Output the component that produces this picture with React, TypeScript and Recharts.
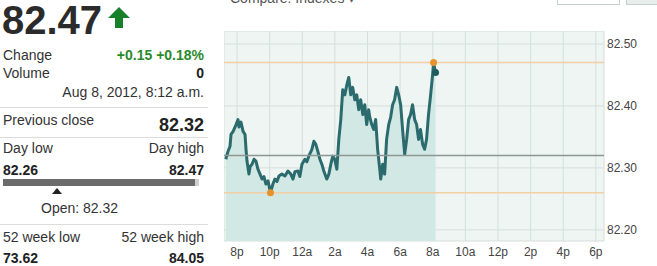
import React from 'react';
import { ComposedChart, Area, XAxis, YAxis, CartesianGrid, ReferenceLine, ReferenceDot } from 'recharts';

// hours after 6p of the previous day
const times = [
  1.31, 1.45, 1.57, 1.63, 1.76, 1.94, 2.06, 2.12, 2.24, 2.37, 2.49, 2.55, 2.61, 2.73, 2.8, 2.92,
  3.04, 3.16, 3.28, 3.41, 3.53, 3.65, 3.77, 3.9, 4.05, 4.2, 4.32, 4.45, 4.57, 4.75, 4.94, 5.12,
  5.3, 5.43, 5.55, 5.73, 5.85, 5.98, 6.16, 6.28, 6.4, 6.59, 6.71, 6.83, 6.95, 7.08, 7.2, 7.32,
  7.5, 7.63, 7.75, 7.87, 7.99, 8.12, 8.24, 8.36, 8.48, 8.61, 8.73, 8.85, 8.97, 9.09, 9.22, 9.34,
  9.46, 9.58, 9.71, 9.83, 9.95, 10.07, 10.13, 10.26, 10.38, 10.5, 10.62, 10.75, 10.81, 10.93, 11.05, 11.17,
  11.3, 11.42, 11.54, 11.66, 11.79, 11.91, 12.03, 12.15, 12.28, 12.4, 12.52, 12.64, 12.76, 12.89, 13.01, 13.13,
  13.25, 13.38, 13.5, 13.62, 13.74, 13.87, 13.99, 14.05, 14.17,
];

const prices = [
  82.314, 82.327, 82.335, 82.354, 82.359, 82.37, 82.378, 82.366, 82.374, 82.359, 82.354, 82.33, 82.311, 82.29, 82.302, 82.306,
  82.314, 82.311, 82.298, 82.29, 82.282, 82.286, 82.274, 82.279, 82.26, 82.274, 82.282, 82.278, 82.287, 82.29, 82.287, 82.295,
  82.29, 82.282, 82.294, 82.295, 82.286, 82.306, 82.314, 82.31, 82.319, 82.33, 82.343, 82.338, 82.327, 82.314, 82.306, 82.295,
  82.282, 82.29, 82.306, 82.319, 82.314, 82.298, 82.346, 82.378, 82.426, 82.418, 82.434, 82.446, 82.418, 82.43, 82.41, 82.418,
  82.394, 82.41, 82.386, 82.402, 82.37, 82.394, 82.383, 82.37, 82.362, 82.378, 82.33, 82.298, 82.282, 82.306, 82.29, 82.346,
  82.37, 82.382, 82.402, 82.41, 82.43, 82.418, 82.402, 82.362, 82.322, 82.346, 82.378, 82.386, 82.402, 82.378, 82.37, 82.346,
  82.362, 82.338, 82.33, 82.346, 82.386, 82.418, 82.45, 82.47, 82.454,
];

const xTicks = [2, 4, 6, 8, 10, 12, 14, 16, 18, 20, 22, 24];
const xLabels = ['8p', '10p', '12a', '2a', '4a', '6a', '8a', '10a', '12p', '2p', '4p', '6p'];
const yTicks = [82.2, 82.3, 82.4, 82.5];

const prevClose = 82.32;
const dayLow = { t: 4.05, v: 82.26 };
const dayHigh = { t: 14.05, v: 82.47 };
const last = { t: 14.17, v: 82.454 };

const data = times.map((t, i) => ({ t, v: prices[i] }));

const font = '"Liberation Sans", Arial, sans-serif';

const Row = ({ top, left, right, size = 14, bold = false, rightColor = '#222', rightSize }: any) => (
  <div style={{ position: 'absolute', top, left: 3, width: 201, height: 20, fontSize: size, lineHeight: '16px', color: '#333' }}>
    <span style={{ position: 'absolute', left: 0 }}>{left}</span>
    <span style={{ position: 'absolute', right: 0, fontWeight: bold ? 'bold' : 'normal', color: rightColor, fontSize: rightSize || size }}>{right}</span>
  </div>
);

const Sep = ({ top }: { top: number }) => (
  <div style={{ position: 'absolute', top, left: 0, width: 208, height: 1, background: '#dcdcdc' }} />
);

export default function App() {
  return (
    <div style={{ position: 'absolute', left: 0, top: 0, width: 657, height: 266, background: '#fff', fontFamily: font, overflow: 'hidden' }}>
      <div style={{ position: 'absolute', left: 2, top: 0, fontSize: 40, lineHeight: '40px', fontWeight: 'bold', color: '#2b2b2b' }}>82.47</div>
      <svg style={{ position: 'absolute', left: 106, top: 7 }} width={26} height={22}>
        <polygon points="13,0 24,11 17,11 17,21 9,21 9,11 2,11" fill="#17802a" />
      </svg>
      <Row top={47} left="Change" right="+0.15 +0.18%" bold rightColor="#2a8a2a" />
      <Row top={65} left="Volume" right="0" bold />
      <Row top={84} left="" right="Aug 8, 2012, 8:12 a.m." rightColor="#333" />
      <Sep top={107} />
      <Row top={112} left="Previous close" right="" />
      <div style={{ position: 'absolute', top: 115, right: 657 - 204, fontSize: 18, lineHeight: '20px', fontWeight: 'bold', color: '#222' }}>82.32</div>
      <Sep top={137} />
      <Row top={140} left="Day low" right="Day high" rightColor="#333" />
      <Row top={162} left={<b style={{ color: '#222' }}>82.26</b>} right="82.47" bold />
      <div style={{ position: 'absolute', top: 179, left: 3, width: 192, height: 7, background: '#6b6b6b' }} />
      <div style={{ position: 'absolute', top: 179, left: 195, width: 4, height: 7, background: '#cfcfcf' }} />
      <svg style={{ position: 'absolute', left: 52, top: 188 }} width={10} height={6}>
        <polygon points="5,0 10,6 0,6" fill="#222" />
      </svg>
      <div style={{ position: 'absolute', top: 200, left: 41, fontSize: 14, lineHeight: '16px', color: '#333' }}>Open: 82.32</div>
      <Sep top={224} />
      <Row top={229} left="52 week low" right="52 week high" rightColor="#333" />
      <Row top={250} left={<b style={{ color: '#222' }}>73.62</b>} right="84.05" bold />

      <div style={{ position: 'absolute', top: -10, left: 230, fontSize: 14, lineHeight: '16px', color: '#555' }}>Compare: Indexes ▾</div>
      <div style={{ position: 'absolute', top: -20, left: 557, width: 61, height: 23, border: '1px solid #c8d0cd', background: '#fff' }} />
      <div style={{ position: 'absolute', top: -20, left: 626, width: 40, height: 23, border: '1px solid #c8d0cd', background: '#e6eeec' }} />

      <div style={{ position: 'absolute', left: 224, top: 31 }}>
        <ComposedChart width={420} height={235} data={data} margin={{ top: 0, right: 0, left: 0, bottom: 0 }}>
          <CartesianGrid fill="#eef5f3" stroke="#d5dfdb" strokeWidth={1} />
          <XAxis
            type="number"
            dataKey="t"
            domain={[1.2, 24.5]}
            ticks={xTicks}
            tickFormatter={(v: number) => xLabels[xTicks.indexOf(v)]}
            axisLine={false}
            tickLine={false}
            tickSize={0}
            tickMargin={6}
            height={25}
            allowDataOverflow
            tick={{ fill: '#444', fontSize: 12, fontFamily: font }}
          />
          <YAxis
            orientation="right"
            domain={[82.182, 82.521]}
            ticks={yTicks}
            tickFormatter={(v: number) => v.toFixed(2)}
            axisLine={false}
            tickLine={false}
            tickSize={0}
            tickMargin={3}
            width={40}
            allowDataOverflow
            tick={{ fill: '#444', fontSize: 12, fontFamily: font }}
          />
          <Area
            type="linear"
            dataKey="v"
            stroke="#2b6b6d"
            strokeWidth={3}
            strokeLinejoin="round"
            fill="#d2e8e4"
            fillOpacity={1}
            dot={false}
            activeDot={false}
            isAnimationActive={false}
          />
          <ReferenceLine y={prevClose} stroke="#8d9693" strokeWidth={1.5} />
          <ReferenceLine y={dayHigh.v} stroke="#f3cfa6" strokeWidth={1.5} />
          <ReferenceLine y={dayLow.v} stroke="#f3cfa6" strokeWidth={1.5} />
          <ReferenceDot x={dayLow.t} y={dayLow.v} r={3.5} fill="#e8922e" stroke="none" />
          <ReferenceDot x={dayHigh.t} y={dayHigh.v} r={3.5} fill="#e8922e" stroke="none" />
          <ReferenceDot x={last.t} y={last.v} r={3.5} fill="#1f5a5c" stroke="none" />
        </ComposedChart>
      </div>
    </div>
  );
}
